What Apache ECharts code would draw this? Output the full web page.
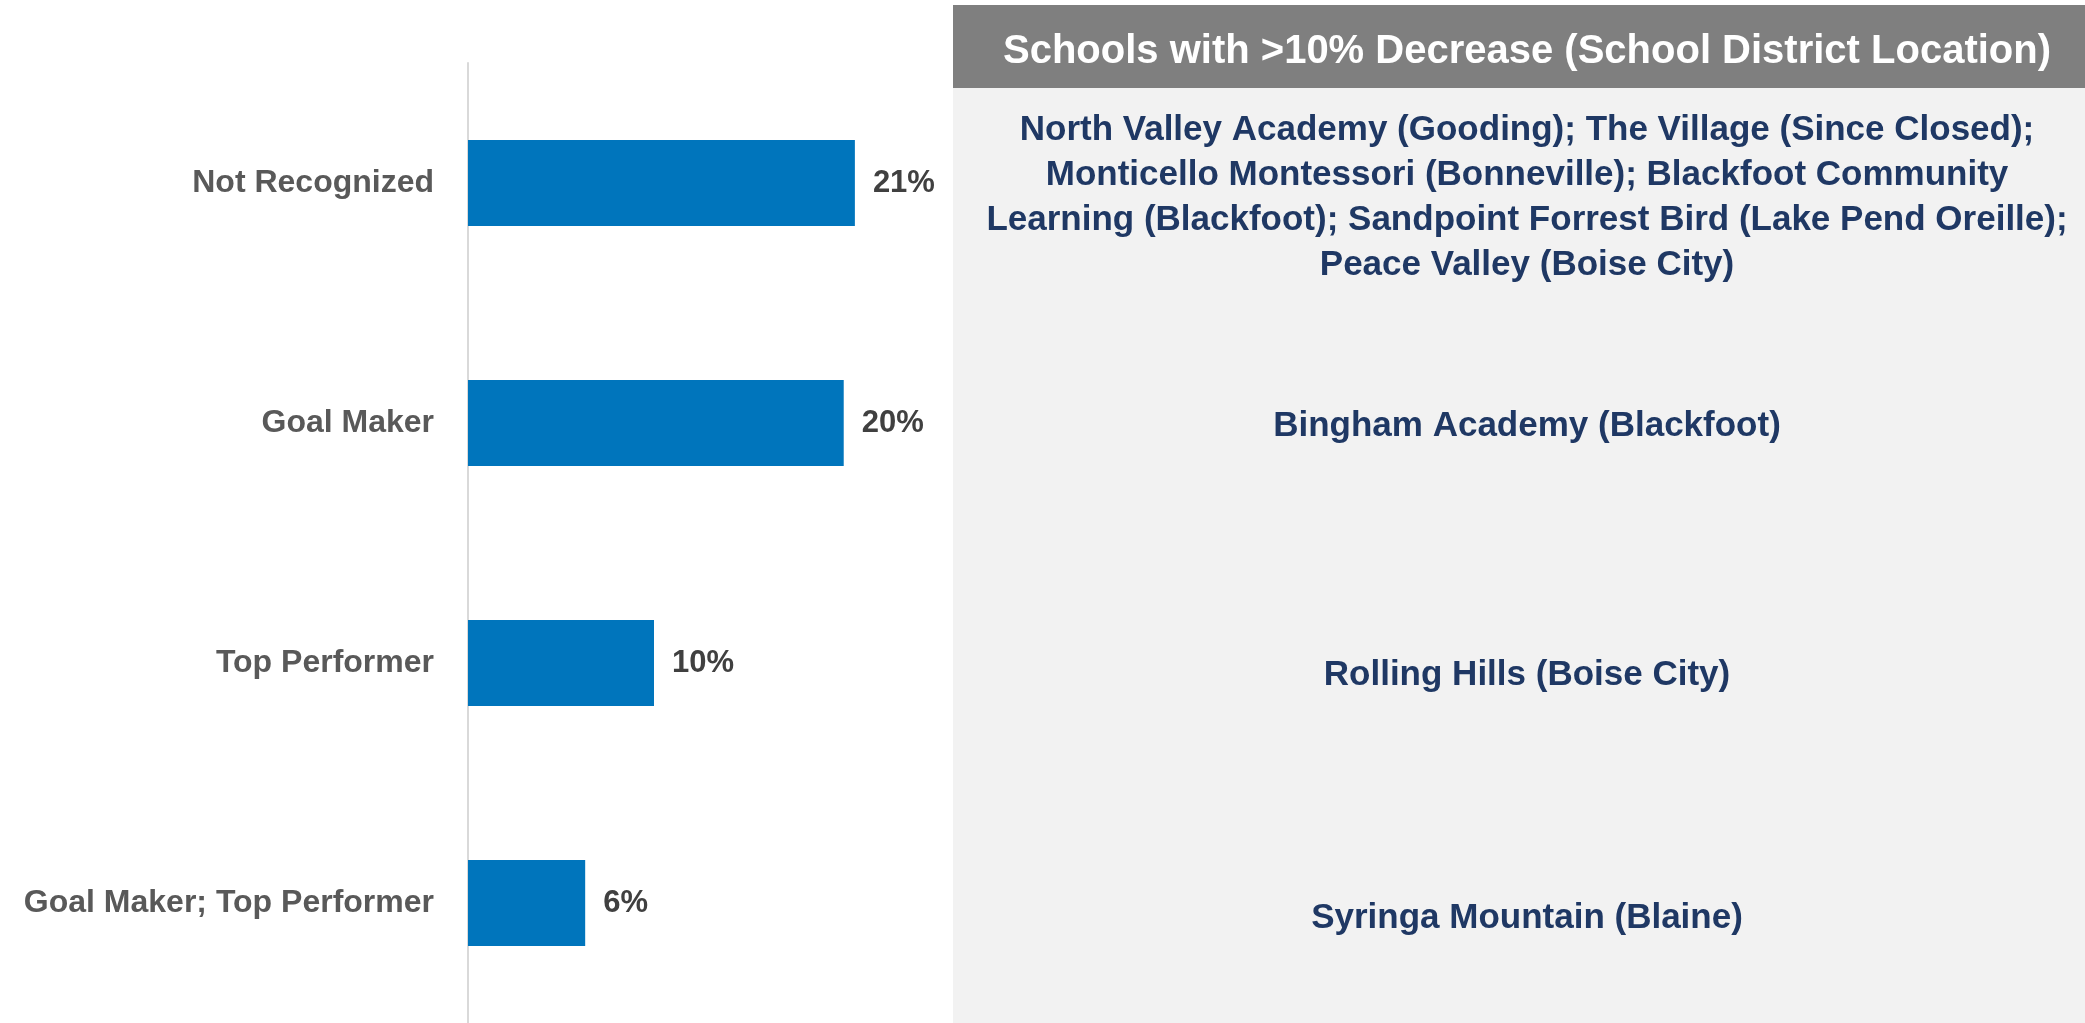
<!DOCTYPE html>
<html>
<head>
<meta charset="utf-8">
<script src="https://cdn.jsdelivr.net/npm/echarts@6/dist/echarts.min.js"></script>
<style>
  html, body { margin: 0; padding: 0; background: #ffffff; }
  #chart { width: 2085px; height: 1023px; }
</style>
</head>
<body>
<div id="chart"></div>
<script>
// ---- data ----
const categories = ['Not Recognized', 'Goal Maker', 'Top Performer', 'Goal Maker; Top Performer'];
const shareValues = [20.8, 20.2, 10.0, 6.3];
const panelTitle = 'Schools with >10% Decrease (School District Location)';
const schoolLists = [
  'North Valley Academy (Gooding); The Village (Since Closed);\nMonticello Montessori (Bonneville); Blackfoot Community\nLearning (Blackfoot); Sandpoint Forrest Bird (Lake Pend Oreille);\nPeace Valley (Boise City)',
  'Bingham Academy (Blackfoot)',
  'Rolling Hills (Boise City)',
  'Syringa Mountain (Blaine)'
];

// ---- layout ----
const FONT = '"Liberation Sans", Arial, sans-serif';
const textCentersY = [198, 426, 675, 918];
const panelCenterX = 1527;

const chart = echarts.init(document.getElementById('chart'), null, { renderer: 'canvas' });

const graphics = [
  { type: 'rect', shape: { x: 953, y: 88, width: 1132, height: 935 }, style: { fill: '#f2f2f2' }, z: 0 },
  { type: 'rect', shape: { x: 953, y: 5, width: 1132, height: 83 }, style: { fill: '#7f7f7f' }, z: 0 },
  { type: 'text', x: panelCenterX, y: 52, z: 2,
    style: { text: panelTitle, fill: '#ffffff', font: 'bold 40px ' + FONT, align: 'center', verticalAlign: 'middle' } }
];
schoolLists.forEach((t, i) => {
  graphics.push({
    type: 'text', x: panelCenterX, y: textCentersY[i], z: 2,
    style: { text: t, fill: '#1f3864', font: 'bold 35px ' + FONT, align: 'center', verticalAlign: 'middle', lineHeight: 45 }
  });
});

const option = {
  backgroundColor: '#ffffff',
  animation: false,
  grid: { left: 468, top: 63, width: 465, height: 968 },
  xAxis: {
    type: 'value', min: 0, max: 25,
    show: false
  },
  yAxis: {
    type: 'category',
    data: categories,
    inverse: true,
    axisLine: { show: true, lineStyle: { color: '#d9d9d9', width: 2 } },
    axisTick: { show: false },
    axisLabel: { color: '#595959', fontFamily: FONT, fontWeight: 'bold', fontSize: 32, margin: 34 },
    splitLine: { show: false }
  },
  series: [{
    type: 'bar',
    data: shareValues,
    barWidth: 86,
    itemStyle: { color: '#0075bc' },
    label: {
      show: true, position: 'right', distance: 18,
      color: '#404040', fontFamily: FONT, fontWeight: 'bold', fontSize: 31,
      formatter: p => Math.round(p.value) + '%'
    }
  }],
  graphic: graphics
};
chart.setOption(option);
</script>
</body>
</html>
